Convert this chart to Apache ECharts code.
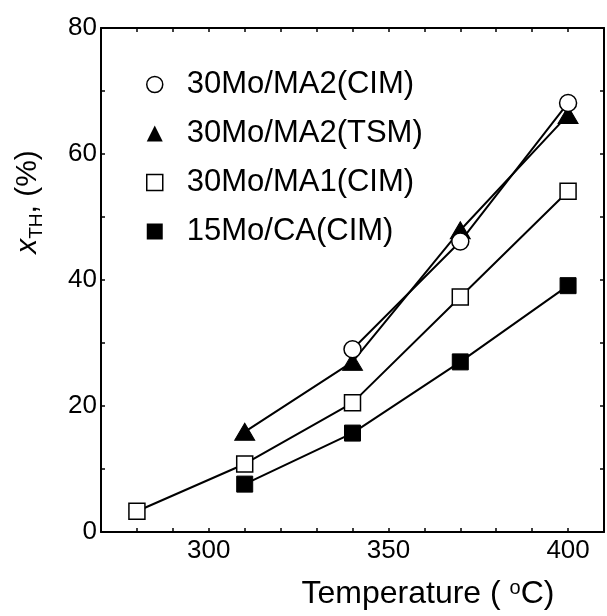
<!DOCTYPE html>
<html>
<head>
<meta charset="utf-8">
<script src="https://cdn.jsdelivr.net/npm/echarts@6/dist/echarts.min.js"></script>
<style>
  html, body { margin: 0; padding: 0; background: #fff; }
  #chart { width: 607px; height: 616px; }
</style>
</head>
<body>
<div id="chart"></div>
<script>
// series names (legend order)
var names = ['30Mo/MA2(CIM)', '30Mo/MA2(TSM)', '30Mo/MA1(CIM)', '15Mo/CA(CIM)'];

// temperature (C) and conversion x_TH (%) for each catalyst
var tMA2cim = [340, 370, 400];
var xMA2cim = [29.0, 46.1, 68.1];

var tMA2tsm = [310, 340, 370, 400];
var xMA2tsm = [15.9, 27.0, 47.9, 66.2];

var tMA1cim = [280, 310, 340, 370, 400];
var xMA1cim = [3.3, 10.8, 20.5, 37.3, 54.1];

var tCAcim = [310, 340, 370, 400];
var xCAcim = [7.6, 15.7, 27.0, 39.1];

var xTicksShown = [300, 350, 400];
var yTicksShown = [0, 20, 40, 60, 80];

function pairs(xs, ys) {
    return xs.map(function (x, i) { return [x, ys[i]]; });
}

var FONT = '"Liberation Sans", Arial, sans-serif';
var chart = echarts.init(document.getElementById('chart'));

var frameAxis = {
    axisLine: { show: true, onZero: false, lineStyle: { color: '#000', width: 2 } },
    axisTick: { show: true, inside: true, length: 4, lineStyle: { color: '#000', width: 1.5 } },
    splitLine: { show: false }
};

function mk(base, extra) {
    return Object.assign({}, base, extra);
}

var option = {
    animation: false,
    backgroundColor: '#fff',
    grid: { left: 101, right: 2, top: 28, bottom: 84, containLabel: false },
    xAxis: [
        mk(frameAxis, {
            type: 'value', min: 270, max: 410, interval: 10, position: 'bottom',
            axisLabel: {
                color: '#000', fontSize: 26, fontFamily: FONT, margin: 6,
                formatter: function (v) { return xTicksShown.indexOf(v) >= 0 ? String(v) : ''; }
            }
        }),
        mk(frameAxis, {
            type: 'value', min: 270, max: 410, interval: 10, position: 'top',
            axisLabel: { show: false }
        })
    ],
    yAxis: [
        mk(frameAxis, {
            type: 'value', min: 0, max: 80, interval: 10, position: 'left',
            axisLabel: {
                color: '#000', fontSize: 26, fontFamily: FONT, margin: 4,
                formatter: function (v) { return yTicksShown.indexOf(v) >= 0 ? String(v) : ''; }
            }
        }),
        mk(frameAxis, {
            type: 'value', min: 0, max: 80, interval: 10, position: 'right',
            axisLabel: { show: false }
        })
    ],
    legend: {
        orient: 'vertical',
        left: 141,
        top: 62,
        itemWidth: 16,
        itemHeight: 16,
        itemGap: 14,
        textStyle: { color: '#000', fontSize: 31, fontFamily: FONT, lineHeight: 35, padding: [0, 0, 0, 19] },
        data: [
            { name: names[0], icon: 'circle', itemStyle: { color: '#fff', borderColor: '#000', borderWidth: 1.5 } },
            { name: names[1], icon: 'triangle', itemStyle: { color: '#000', borderColor: '#000', borderWidth: 0 } },
            { name: names[2], icon: 'rect', itemStyle: { color: '#fff', borderColor: '#000', borderWidth: 1.5 } },
            { name: names[3], icon: 'rect', itemStyle: { color: '#000', borderColor: '#000', borderWidth: 0 } }
        ]
    },
    series: [
        {
            name: names[3], type: 'line', data: pairs(tCAcim, xCAcim), z: 2,
            symbol: 'rect', symbolSize: 16,
            lineStyle: { color: '#000', width: 2 },
            itemStyle: { color: '#000', borderColor: '#000', borderWidth: 1 }
        },
        {
            name: names[2], type: 'line', data: pairs(tMA1cim, xMA1cim), z: 3,
            symbol: 'rect', symbolSize: 16,
            lineStyle: { color: '#000', width: 2 },
            itemStyle: { color: '#fff', borderColor: '#000', borderWidth: 1.5 }
        },
        {
            name: names[1], type: 'line', data: pairs(tMA2tsm, xMA2tsm), z: 4,
            symbol: 'triangle', symbolSize: [20, 17],
            lineStyle: { color: '#000', width: 2 },
            itemStyle: { color: '#000', borderColor: '#000', borderWidth: 1 }
        },
        {
            name: names[0], type: 'line', data: pairs(tMA2cim, xMA2cim), z: 5,
            symbol: 'circle', symbolSize: 17,
            lineStyle: { color: '#000', width: 2 },
            itemStyle: { color: '#fff', borderColor: '#000', borderWidth: 1.5 }
        }
    ],
    graphic: [
        {
            type: 'text', x: 28, y: 202, rotation: Math.PI / 2,
            style: {
                text: '{i|x}{s|TH}{n|, (%)}',
                align: 'center', verticalAlign: 'middle',
                fill: '#000',
                rich: {
                    i: { fontSize: 30, fontStyle: 'italic', fontFamily: FONT, fill: '#000', lineHeight: 40, verticalAlign: 'middle' },
                    s: { fontSize: 19, fontFamily: FONT, fill: '#000', lineHeight: 40, verticalAlign: 'bottom', padding: [0, 0, 2, 0] },
                    n: { fontSize: 30, fontFamily: FONT, fill: '#000', lineHeight: 40, verticalAlign: 'middle' }
                }
            }
        },
        {
            type: 'text', x: 428, y: 594,
            style: {
                text: '{n|Temperature ( }{o|o}{n|C)}',
                align: 'center', verticalAlign: 'middle',
                fill: '#000',
                rich: {
                    n: { fontSize: 32, fontFamily: FONT, fill: '#000', lineHeight: 40, verticalAlign: 'middle' },
                    o: { fontSize: 20, fontFamily: FONT, fill: '#000', lineHeight: 40, verticalAlign: 'top', padding: [4, 0, 0, 0] }
                }
            }
        }
    ]
};

chart.setOption(option);
</script>
</body>
</html>
